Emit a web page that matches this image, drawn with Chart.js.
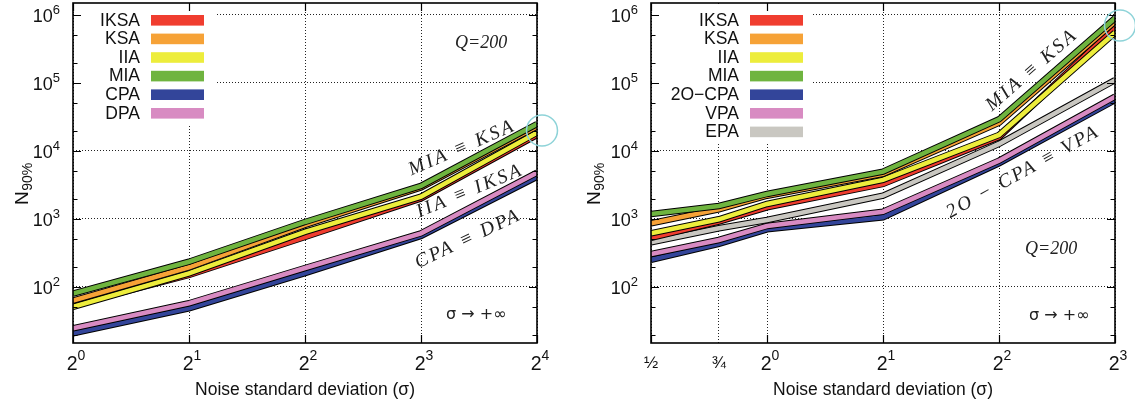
<!DOCTYPE html>
<html>
<head>
<meta charset="utf-8">
<script src="https://cdn.jsdelivr.net/npm/chart.js@4.4.1/dist/chart.umd.min.js"></script>
<style>
  html, body { margin: 0; padding: 0; background: #fff; width: 1135px; height: 403px; overflow: hidden; }
  canvas { position: absolute; top: 0; }
  #left { left: 0; }
  #right { left: 567px; }
</style>
</head>
<body>
<canvas id="left" width="567" height="403"></canvas>
<canvas id="right" width="568" height="403"></canvas>
<script>
// ---- noise levels (sigma) ----
const sigmaLeft  = [1, 2, 4, 8, 16];
const sigmaRight = [0.5, 0.75, 1, 2, 4, 8];

// ---- N90% for each attack, left panel ----
const leftIKSA = [54, 150, 543, 2000, 17200];
const leftKSA  = [63, 195, 817, 2900, 23000];
const leftIIA  = [51, 158, 646, 2128, 18600];
const leftMIA  = [80, 235, 903, 3057, 24900];
const leftCPA  = [20.8, 48.5, 160, 562, 4170];
const leftDPA  = [24.7, 57.6, 190, 616, 4800];

// ---- N90% for each attack, right panel ----
const rightIKSA  = [530, 912, 1485, 3270, 16000, 660000];
const rightKSA   = [865, 1390, 2200, 4600, 26000, 798000];
const rightIIA   = [616, 990, 1663, 3750, 17200, 550000];
const rightMIA   = [1185, 1553, 2333, 4963, 29200, 894000];
const right2OCPA = [250, 430, 705, 1059, 6590, 56000];
const rightVPA   = [306, 491, 789, 1280, 7200, 63000];
const rightEPA   = [455, 730, 967, 2200, 12700, 110000];

// ---- tick values and labels ----
const yTickValues = [1e2, 1e3, 1e4, 1e5, 1e6];
const yTickLabels = ['10^2', '10^3', '10^4', '10^5', '10^6'];
const yMinorFactors = [2, 5];
const xTickLeft = [1, 2, 4, 8, 16];
const xTickLeftLabels = ['2^0', '2^1', '2^2', '2^3', '2^4'];
const xTickRight = [0.5, 0.75, 1, 2, 4, 8];
const xTickRightLabels = ['½', '¾', '2^0', '2^1', '2^2', '2^3'];

// end points singled out with a ring
const ringLeft  = [16, 20000];
const ringRight = [8, 700000];

const COLORS = {
  IKSA: '#f03d2f', KSA: '#f6a237', IIA: '#eded3c', MIA: '#6fb43f',
  CPA: '#33459a', DPA: '#d88bc2', VPA: '#d88bc2', EPA: '#c9c7c1'
};

const SANS = '"Liberation Sans", Arial, Helvetica, sans-serif';
const SERIF = '"Liberation Serif", "Times New Roman", serif';

function makeDatasets(xs, list) {
  // list is ordered bottom (drawn first) to top
  const out = [];
  const n = list.length;
  list.forEach((s, k) => {
    const pts = xs.map((x, i) => ({ x: x, y: s.values[i] }));
    out.push({ label: s.label + ' outline', outline: true, data: pts, borderColor: '#000',
      borderWidth: 6.5, pointRadius: 0, tension: 0, borderJoinStyle: 'miter', borderCapStyle: 'butt',
      order: 2 * (n - k) + 1, fill: false });
    out.push({ label: s.label, data: pts, borderColor: s.color, backgroundColor: s.color,
      borderWidth: 4.5, pointRadius: 0, tension: 0, borderJoinStyle: 'miter', borderCapStyle: 'butt',
      order: 2 * (n - k), fill: false });
  });
  return out;
}

function supText(ctx, text, x, y, align, baseSize, supSize, rise) {
  const parts = text.split('^');
  ctx.font = baseSize + 'px ' + SANS;
  const bw = ctx.measureText(parts[0]).width;
  let sw = 0;
  if (parts[1]) { ctx.font = supSize + 'px ' + SANS; sw = ctx.measureText(parts[1]).width; }
  const total = bw + sw;
  const x0 = align === 'right' ? x - total : align === 'center' ? x - total / 2 : x;
  ctx.textAlign = 'left';
  ctx.textBaseline = 'alphabetic';
  ctx.font = baseSize + 'px ' + SANS;
  ctx.fillText(parts[0], x0, y);
  if (parts[1]) { ctx.font = supSize + 'px ' + SANS; ctx.fillText(parts[1], x0 + bw, y - rise); }
}

const panelPlugin = {
  id: 'panel',
  afterDatasetsDraw(chart) {
    const p = chart.options.plugins.panel;
    const ctx = chart.ctx;
    const a = chart.chartArea;
    const xs = chart.scales.x, ys = chart.scales.y;
    ctx.save();

    // key box
    ctx.fillStyle = '#fff';
    ctx.fillRect(a.left + 1, a.top + 1, p.keyBoxRight - a.left - 1, p.keyBoxBottom - a.top - 1);
    p.legend.forEach((name, i) => {
      const ds = chart.data.datasets.find(d => d.label === name && !d.outline);
      const cy = p.keyTop + i * p.keyStep;
      ctx.fillStyle = ds.borderColor;
      ctx.fillRect(p.swatchLeft, cy - 5.3, 53, 10.6);
      ctx.fillStyle = '#111';
      ctx.font = '17.5px ' + SANS;
      ctx.textAlign = 'right';
      ctx.textBaseline = 'middle';
      ctx.fillText(name, p.textRight, cy + 0.5);
    });

    // frame
    ctx.strokeStyle = '#000';
    ctx.lineWidth = 1.6;
    ctx.strokeRect(a.left, a.top, a.right - a.left, a.bottom - a.top);

    // y tick marks
    ctx.lineWidth = 1.2;
    ys.ticks.forEach(t => {
      const y = Math.round(ys.getPixelForValue(t.value)) + 0.5;
      const len = t.major ? 8 : 4.5;
      ctx.beginPath();
      ctx.moveTo(a.left, y); ctx.lineTo(a.left + len, y);
      ctx.moveTo(a.right, y); ctx.lineTo(a.right - len, y);
      ctx.stroke();
    });
    // x tick marks
    xs.ticks.forEach(t => {
      if (!t.mark) return;
      const x = Math.round(xs.getPixelForValue(t.value)) + 0.5;
      ctx.beginPath();
      ctx.moveTo(x, a.bottom); ctx.lineTo(x, a.bottom - 8);
      ctx.moveTo(x, a.top); ctx.lineTo(x, a.top + 8);
      ctx.stroke();
    });

    // tick labels
    ctx.fillStyle = '#111';
    yTickValues.forEach((v, i) => {
      const y = ys.getPixelForValue(v);
      supText(ctx, yTickLabels[i], a.left - 13, y + 7.5, 'right', 18, 13, 8.5);
    });
    p.xTicks.forEach((v, i) => {
      const x = xs.getPixelForValue(v);
      const lab = p.xLabels[i];
      if (lab.indexOf('^') >= 0) {
        supText(ctx, lab, x + 3, 370, 'center', 19.5, 14, 10);
      } else {
        ctx.font = '17px ' + SANS;
        ctx.textAlign = 'center';
        ctx.textBaseline = 'alphabetic';
        ctx.fillText(lab, x, 368);
      }
    });

    // axis titles
    ctx.font = '17.5px ' + SANS;
    ctx.textAlign = 'center';
    ctx.textBaseline = 'alphabetic';
    ctx.fillText('Noise standard deviation (σ)', (a.left + a.right) / 2, 395);

    ctx.save();
    ctx.translate(p.yTitleX, 205);
    ctx.rotate(-Math.PI / 2);
    ctx.textAlign = 'left';
    ctx.font = '19px ' + SANS;
    ctx.fillText('N', 0, 0);
    const nw = ctx.measureText('N').width;
    ctx.font = '14px ' + SANS;
    ctx.fillText('90%', nw + 0.5, 4);
    ctx.restore();

    // annotations
    ctx.fillStyle = '#222';
    ctx.font = 'italic 18px ' + SERIF;
    ctx.textAlign = 'left';
    ctx.fillText('Q=200', p.qPos[0], p.qPos[1]);
    ctx.font = '16px "DejaVu Sans", ' + SANS;
    ctx.fillText('σ → +∞', p.sigPos[0], p.sigPos[1]);

    p.tags.forEach(tg => {
      ctx.save();
      ctx.translate(tg.x, tg.y);
      ctx.rotate(tg.angle * Math.PI / 180);
      ctx.font = 'italic 19.5px ' + SERIF;
      ctx.letterSpacing = '2.5px';
      ctx.textAlign = 'center';
      ctx.textBaseline = 'middle';
      ctx.fillStyle = '#222';
      ctx.fillText(tg.text, 0, 0);
      ctx.restore();
    });

    // ring around end points
    const rx = xs.getPixelForValue(p.ring[0]) + 5;
    const ry = ys.getPixelForValue(p.ring[1]);
    ctx.strokeStyle = '#8ed3d8';
    ctx.lineWidth = 1.5;
    ctx.beginPath();
    ctx.arc(rx, ry, 15.5, 0, Math.PI * 2);
    ctx.stroke();

    ctx.restore();
  }
};

function makeChart(id, p) {
  const yTicks = [];
  yTickValues.forEach(v => {
    yTicks.push({ value: v, major: true });
    yMinorFactors.forEach(f => { if (v * f < 1.5e6) yTicks.push({ value: v * f, major: false }); });
  });
  yTicks.push({ value: 20, major: false });
  yTicks.push({ value: 50, major: false });
  yTicks.sort((m, n) => m.value - n.value);

  return new Chart(document.getElementById(id), {
    type: 'line',
    data: { datasets: p.datasets },
    plugins: [panelPlugin],
    options: {
      responsive: false,
      animation: false,
      devicePixelRatio: 1,
      layout: { padding: { top: 3, right: p.padRight, left: 0, bottom: 0 } },
      plugins: { legend: { display: false }, tooltip: { enabled: false }, panel: p },
      scales: {
        x: {
          type: 'logarithmic', min: p.xMin, max: p.xMax,
          afterBuildTicks: s => { s.ticks = p.xTicks.map((v, i) => ({ value: v, major: true, mark: p.xMarks[i] })); },
          afterFit: s => { s.height = 60; },
          ticks: { display: false },
          grid: { color: '#222', lineWidth: 1, drawTicks: false },
          border: { display: false, dash: [1, 2] }
        },
        y: {
          type: 'logarithmic', min: 15, max: 1.5e6,
          afterBuildTicks: s => { s.ticks = yTicks.map(t => ({ value: t.value, major: t.major })); },
          afterFit: s => { s.width = p.yWidth; },
          ticks: { display: false },
          grid: { color: c => (c.tick && c.tick.major) ? '#222' : 'rgba(0,0,0,0)', lineWidth: 1, drawTicks: false },
          border: { display: false, dash: [1, 2] }
        }
      }
    }
  });
}

makeChart('left', {
  xMin: 1, xMax: 16, xTicks: xTickLeft, xLabels: xTickLeftLabels, xMarks: [true, true, true, true, true],
  yWidth: 73, padRight: 30,
  datasets: makeDatasets(sigmaLeft, [
    { label: 'CPA', color: COLORS.CPA, values: leftCPA },
    { label: 'DPA', color: COLORS.DPA, values: leftDPA },
    { label: 'IKSA', color: COLORS.IKSA, values: leftIKSA },
    { label: 'IIA', color: COLORS.IIA, values: leftIIA },
    { label: 'KSA', color: COLORS.KSA, values: leftKSA },
    { label: 'MIA', color: COLORS.MIA, values: leftMIA }
  ]),
  legend: ['IKSA', 'KSA', 'IIA', 'MIA', 'CPA', 'DPA'],
  keyTop: 20.3, keyStep: 18.6, textRight: 140, swatchLeft: 151, keyBoxRight: 215, keyBoxBottom: 124,
  yTitleX: 28,
  qPos: [455, 48], sigPos: [446, 319],
  ring: ringLeft,
  tags: [
    { text: 'MIA ≡ KSA', x: 462, y: 148, angle: -23.5 },
    { text: 'IIA ≡ IKSA', x: 470, y: 191, angle: -22.5 },
    { text: 'CPA ≡ DPA', x: 468, y: 239, angle: -25.5 }
  ]
});

makeChart('right', {
  xMin: 0.5, xMax: 8, xTicks: xTickRight, xLabels: xTickRightLabels, xMarks: [true, false, true, true, true, true],
  yWidth: 84, padRight: 20,
  datasets: makeDatasets(sigmaRight, [
    { label: '2O−CPA', color: COLORS.CPA, values: right2OCPA },
    { label: 'VPA', color: COLORS.VPA, values: rightVPA },
    { label: 'EPA', color: COLORS.EPA, values: rightEPA },
    { label: 'IKSA', color: COLORS.IKSA, values: rightIKSA },
    { label: 'IIA', color: COLORS.IIA, values: rightIIA },
    { label: 'KSA', color: COLORS.KSA, values: rightKSA },
    { label: 'MIA', color: COLORS.MIA, values: rightMIA }
  ]),
  legend: ['IKSA', 'KSA', 'IIA', 'MIA', '2O−CPA', 'VPA', 'EPA'],
  keyTop: 20.3, keyStep: 18.6, textRight: 172, swatchLeft: 183, keyBoxRight: 246, keyBoxBottom: 142,
  yTitleX: 33,
  qPos: [458, 254], sigPos: [462, 320],
  ring: ringRight,
  tags: [
    { text: 'MIA ≡ KSA', x: 465, y: 70, angle: -41 },
    { text: '2O − CPA ≡ VPA', x: 456, y: 172, angle: -29 }
  ]
});
</script>
</body>
</html>
